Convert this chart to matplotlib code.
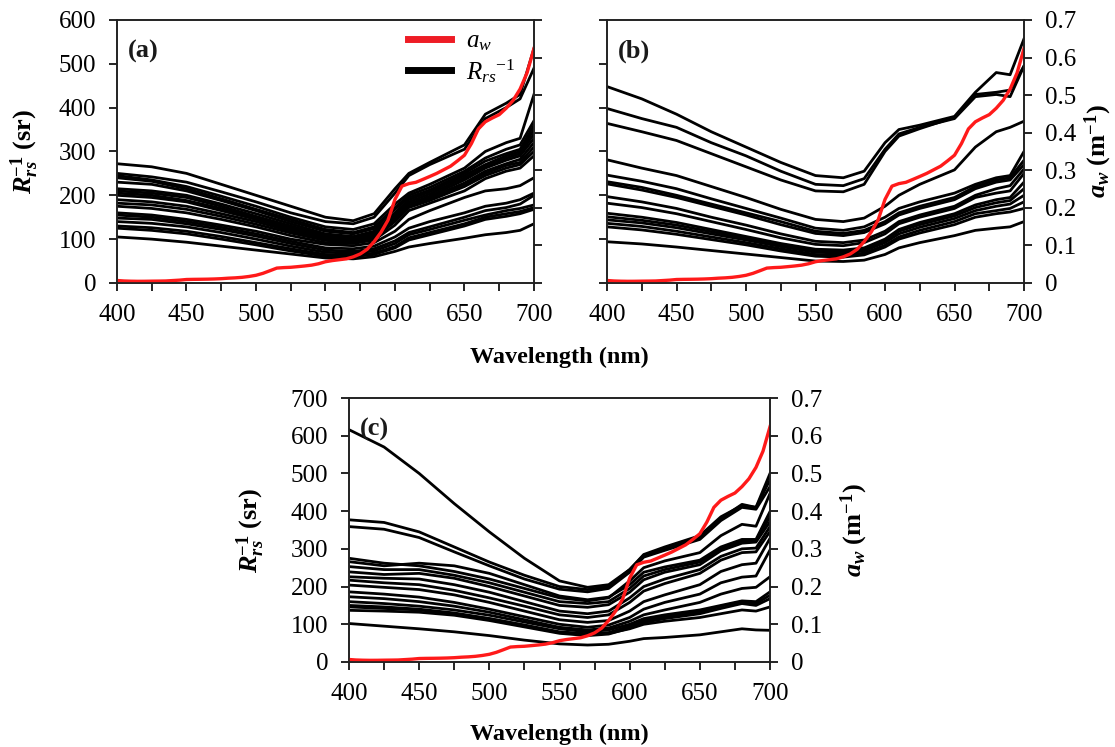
"""
Rrs^-1 spectra vs pure water absorption, three panels (a), (b), (c).
"""

import matplotlib.pyplot as plt
import matplotlib
from matplotlib.ticker import MultipleLocator
import numpy as np

matplotlib.rcParams['font.family'] = 'Liberation Serif'
matplotlib.rcParams['mathtext.fontset'] = 'custom'
matplotlib.rcParams['mathtext.rm'] = 'Liberation Serif'
matplotlib.rcParams['mathtext.it'] = 'Liberation Serif:italic'
matplotlib.rcParams['mathtext.bf'] = 'Liberation Serif:bold'
matplotlib.rcParams['mathtext.bfit'] = 'Liberation Serif:italic:bold'

# ---- data -------------------------------------------------------------
wl = [400, 425, 450, 475, 500, 525, 550, 570, 585, 600, 610, 625, 650, 665, 680, 690, 700]

aw_wl = [400, 405, 410, 415, 420, 425, 430, 435, 440, 445, 450, 455, 460, 465, 470, 475,
         480, 485, 490, 495, 500, 505, 510, 515, 520, 525, 530, 535, 540, 545, 550, 555,
         560, 565, 570, 575, 580, 585, 590, 595, 600, 605, 610, 615, 620, 625, 630, 635,
         640, 645, 650, 655, 660, 665, 670, 675, 680, 685, 690, 695, 700]
aw = [0.0066, 0.0053, 0.0047, 0.0044, 0.0045, 0.0048, 0.0050, 0.0053, 0.0064, 0.0075,
      0.0092, 0.0096, 0.0098, 0.0101, 0.0106, 0.0114, 0.0127, 0.0136, 0.0150, 0.0173,
      0.0204, 0.0256, 0.0325, 0.0396, 0.0409, 0.0417, 0.0434, 0.0452, 0.0474, 0.0511,
      0.0565, 0.0596, 0.0619, 0.0642, 0.0695, 0.0772, 0.0896, 0.1100, 0.1351, 0.1672,
      0.2224, 0.2577, 0.2644, 0.2678, 0.2755, 0.2834, 0.2916, 0.3012, 0.3108, 0.3250,
      0.3400, 0.3710, 0.4100, 0.4290, 0.4390, 0.4480, 0.4650, 0.4860, 0.5160, 0.5590,
      0.6240]

rrs_a = [
    [272, 265, 250, 225, 200, 175, 150, 142, 158, 215, 250, 275, 315, 385, 410, 430, 535],
    [250, 242, 230, 208, 185, 160, 140, 135, 150, 205, 245, 270, 305, 375, 400, 420, 490],
    [245, 235, 220, 198, 175, 150, 128, 122, 135, 180, 205, 225, 262, 300, 320, 330, 430],
    [240, 232, 215, 192, 168, 145, 122, 115, 128, 172, 200, 218, 255, 285, 305, 315, 370],
    [230, 225, 210, 188, 165, 140, 118, 112, 124, 168, 195, 212, 250, 278, 295, 305, 360],
    [215, 210, 200, 180, 158, 135, 112, 106, 118, 160, 190, 208, 245, 270, 290, 300, 350],
    [210, 205, 195, 175, 152, 130, 108, 103, 115, 155, 185, 203, 240, 265, 285, 295, 340],
    [205, 200, 188, 170, 148, 126, 105, 100, 112, 150, 180, 198, 235, 262, 280, 290, 330],
    [200, 195, 185, 165, 145, 122, 102, 98, 108, 148, 178, 195, 228, 255, 272, 282, 320],
    [190, 185, 175, 158, 140, 118, 100, 95, 105, 145, 175, 192, 225, 250, 268, 275, 310],
    [182, 178, 168, 152, 134, 114, 97, 93, 102, 140, 172, 188, 220, 245, 262, 270, 300],
    [175, 170, 160, 145, 128, 108, 92, 90, 98, 132, 165, 182, 210, 238, 255, 262, 290],
    [160, 155, 145, 132, 118, 100, 88, 85, 92, 118, 145, 165, 195, 210, 215, 222, 240],
    [155, 150, 140, 127, 112, 95, 80, 78, 84, 105, 125, 140, 160, 175, 182, 190, 205],
    [148, 145, 135, 122, 107, 90, 75, 72, 78, 96, 115, 128, 150, 165, 172, 180, 200],
    [140, 136, 128, 115, 100, 84, 70, 68, 73, 90, 110, 122, 143, 155, 165, 170, 178],
    [130, 126, 118, 106, 92, 78, 65, 63, 68, 83, 103, 115, 135, 150, 158, 163, 172],
    [125, 120, 112, 100, 87, 73, 61, 60, 65, 80, 98, 110, 130, 145, 152, 158, 168],
    [105, 100, 93, 84, 75, 66, 57, 55, 60, 72, 82, 90, 102, 110, 115, 120, 135],
]

rrs_b = [
    [448, 420, 385, 345, 310, 275, 245, 240, 255, 320, 350, 360, 380, 435, 480, 475, 557],
    [398, 375, 355, 320, 290, 255, 225, 222, 238, 305, 340, 355, 375, 425, 430, 425, 495],
    [364, 345, 325, 295, 265, 235, 210, 208, 225, 300, 335, 352, 378, 430, 435, 440, 495],
    [281, 262, 245, 220, 195, 168, 145, 140, 148, 175, 200, 225, 258, 310, 345, 355, 369],
    [246, 232, 215, 192, 170, 148, 125, 120, 128, 150, 170, 185, 205, 225, 240, 245, 300],
    [231, 218, 200, 180, 160, 140, 118, 113, 120, 140, 160, 175, 195, 220, 235, 240, 280],
    [226, 212, 195, 175, 155, 133, 113, 108, 115, 135, 155, 170, 190, 215, 230, 235, 270],
    [197, 185, 170, 150, 132, 112, 95, 92, 98, 118, 140, 155, 175, 200, 215, 222, 260],
    [182, 172, 158, 140, 122, 103, 88, 85, 92, 112, 135, 150, 170, 195, 205, 210, 250],
    [159, 150, 138, 122, 106, 90, 77, 75, 80, 100, 122, 138, 158, 178, 190, 195, 230],
    [151, 143, 132, 117, 102, 86, 73, 72, 77, 97, 118, 133, 153, 172, 183, 188, 215],
    [144, 137, 126, 112, 98, 83, 70, 68, 73, 92, 112, 127, 147, 165, 175, 180, 200],
    [136, 129, 118, 105, 92, 78, 65, 63, 68, 86, 105, 120, 140, 158, 165, 170, 185],
    [128, 121, 111, 99, 87, 73, 61, 59, 64, 82, 100, 114, 133, 150, 158, 162, 170],
    [94, 89, 82, 74, 66, 58, 50, 49, 52, 65, 80, 92, 108, 120, 125, 128, 140],
]

rrs_c = [
    [616, 570, 500, 420, 345, 275, 215, 198, 205, 245, 285, 305, 335, 385, 415, 410, 500],
    [377, 370, 345, 305, 265, 230, 200, 192, 200, 245, 283, 300, 330, 380, 418, 410, 483],
    [359, 352, 330, 292, 255, 220, 193, 186, 195, 238, 278, 296, 325, 375, 410, 405, 465],
    [275, 262, 255, 240, 220, 195, 170, 162, 170, 215, 250, 268, 290, 335, 365, 360, 447],
    [266, 255, 262, 255, 235, 205, 175, 165, 172, 205, 238, 252, 270, 305, 325, 325, 399],
    [253, 245, 245, 230, 210, 185, 160, 155, 160, 195, 228, 245, 265, 300, 320, 322, 385],
    [239, 232, 235, 222, 200, 175, 150, 145, 152, 185, 218, 238, 258, 295, 315, 318, 372],
    [226, 222, 220, 205, 185, 160, 135, 128, 135, 170, 200, 220, 245, 280, 300, 302, 359],
    [217, 210, 205, 190, 170, 148, 125, 118, 125, 158, 188, 208, 235, 270, 290, 292, 346],
    [204, 198, 192, 178, 158, 135, 112, 105, 110, 135, 160, 178, 205, 240, 258, 262, 328],
    [186, 180, 172, 158, 140, 120, 100, 92, 98, 118, 140, 158, 180, 210, 225, 228, 297],
    [173, 168, 160, 148, 132, 112, 92, 85, 90, 108, 125, 138, 158, 180, 195, 198, 226],
    [160, 155, 148, 138, 124, 106, 88, 80, 85, 100, 115, 125, 138, 150, 162, 160, 186],
    [146, 142, 138, 128, 115, 98, 80, 75, 78, 95, 110, 120, 133, 148, 160, 155, 177],
    [137, 135, 132, 124, 110, 93, 76, 70, 74, 90, 105, 115, 128, 142, 155, 150, 168],
    [150, 146, 140, 130, 115, 97, 78, 72, 76, 88, 100, 108, 118, 128, 138, 135, 146],
    [102, 95, 88, 80, 70, 58, 48, 45, 47, 55, 62, 65, 72, 80, 88, 85, 84],
]

# ---- figure -----------------------------------------------------------
FS = 18
ylab_left = r'$\mathbfit{R}_{\mathbfit{rs}}^{\mathbf{-1}}$ (sr)'
ylab_right = r'$\mathbfit{a}_{\mathbfit{w}}$ (m$^{\mathbf{-1}}$)'

fig = plt.figure(figsize=(11.15, 7.47), dpi=100)

panels = [
    # rect, curves, left max, left label pad (None = no labels),
    # right label pad (None = no labels), tag
    ([0.1049, 0.6212, 0.3740, 0.3521], rrs_a, 600, 13, None, '(a)'),
    ([0.5444, 0.6212, 0.3740, 0.3521], rrs_b, 600, None, 5, '(b)'),
    ([0.3130, 0.1138, 0.3776, 0.3534], rrs_c, 700, 17, 12, '(c)'),
]

axes = []
for rect, curves, ymax, lpad, rpad, tag in panels:
    ax = fig.add_axes(rect)
    for c in curves:
        ax.plot(wl, c, color='black', lw=2.0)
    ax.set_xlim(400, 700)
    ax.set_ylim(0, ymax)
    ax.xaxis.set_major_locator(MultipleLocator(50))
    ax.xaxis.set_minor_locator(MultipleLocator(25))
    ax.yaxis.set_major_locator(MultipleLocator(100))
    ax.tick_params(which='both', direction='out', length=6, width=1.2,
                   labelsize=FS, top=False)
    ax.tick_params(axis='x', pad=9)
    ax.tick_params(axis='y', pad=9)
    if lpad is None:
        ax.tick_params(axis='y', labelleft=False)
    else:
        ax.set_ylabel(ylab_left, fontsize=FS + 1, fontweight='bold', labelpad=lpad)
    ax.text(0.025, 0.88, tag, transform=ax.transAxes, fontsize=FS + 1,
            fontweight='bold', va='center', color='#1a1a1a')

    ax2 = ax.twinx()
    ax2.plot(aw_wl, aw, color='#ff1a1a', lw=2.4)
    ax2.set_ylim(0, 0.7)
    ax2.yaxis.set_major_locator(MultipleLocator(0.1))
    ax2.yaxis.set_major_formatter(matplotlib.ticker.FuncFormatter(
        lambda v, p: '0' if abs(v) < 1e-9 else f'{v:.1f}'))
    ax2.tick_params(direction='out', length=6, width=1.2, labelsize=FS, pad=9)
    if rpad is None:
        ax2.tick_params(labelright=False)
    else:
        ax2.set_ylabel(ylab_right, fontsize=FS + 1, fontweight='bold', labelpad=rpad)
    for s in list(ax.spines.values()) + list(ax2.spines.values()):
        s.set_linewidth(1.2)
        s.set_color('#222222')
    axes.append((ax, ax2))

# legend in panel (a)
ax_a = axes[0][0]
h_red, = ax_a.plot([], [], color='#ee1c25', lw=5)
h_blk, = ax_a.plot([], [], color='black', lw=5)
ax_a.legend([h_red, h_blk], [r'$a_w$', r'$R_{rs}{}^{-1}$'], loc='upper left',
            bbox_to_anchor=(0.674, 1.0), borderaxespad=0, frameon=False,
            fontsize=FS, handlelength=1.7, handletextpad=0.6, labelspacing=0.15)

# shared x label for the top row, own label for (c)
fig.text(0.502, 0.522, 'Wavelength (nm)', ha='center', va='center',
         fontsize=17.5, fontweight='bold')
axes[2][0].set_xlabel('Wavelength (nm)', fontsize=17.5, fontweight='bold', labelpad=14)

plt.savefig('out.png', dpi=100)
plt.close()
